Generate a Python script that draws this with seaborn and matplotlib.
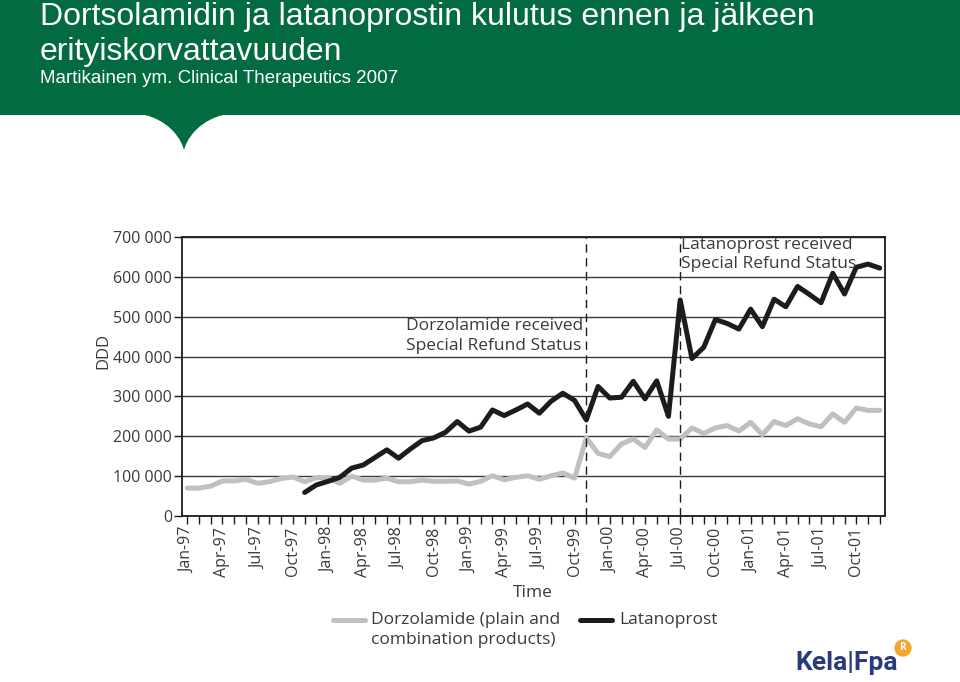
import matplotlib
matplotlib.use("Agg")
import matplotlib.pyplot as plt
from matplotlib.patches import Rectangle, PathPatch
from matplotlib.path import Path
from matplotlib.lines import Line2D
from matplotlib.ticker import FuncFormatter, MultipleLocator
import numpy as np
import pandas as pd
import seaborn as sns

# monthly DDD (thousands), Jan-97 .. Dec-01 (60 months)
months = list(range(60))
dorzolamide = [70, 70, 75, 88, 88, 92, 82, 86, 94, 98,
               86, 96, 96, 82, 100, 90, 90, 95, 86, 86,
               90, 87, 87, 88, 80, 87, 101, 91, 97, 101,
               92, 101, 108, 95, 196, 157, 149, 181, 193, 172,
               216, 193, 193, 221, 207, 221, 227, 213, 235, 204,
               237, 227, 244, 231, 224, 256, 235, 271, 265, 265]
latanoprost = [None] * 10 + [
               59, 78, 87, 97, 120, 128, 147, 166, 145, 168,
               189, 196, 210, 237, 213, 223, 266, 252, 266, 281,
               258, 288, 308, 290, 241, 325, 296, 298, 338, 294,
               339, 250, 542, 395, 423, 493, 483, 469, 519, 475,
               544, 525, 576, 556, 535, 609, 557, 624, 632, 622]
tick_labels = ["Jan-97", "Apr-97", "Jul-97", "Oct-97", "Jan-98", "Apr-98",
               "Jul-98", "Oct-98", "Jan-99", "Apr-99", "Jul-99", "Oct-99",
               "Jan-00", "Apr-00", "Jul-00", "Oct-00", "Jan-01", "Apr-01",
               "Jul-01", "Oct-01"]
dorz_refund = 34   # Nov-99
latan_refund = 42  # Jul-00

df = pd.DataFrame({"month": months,
                   "Dorzolamide": np.array(dorzolamide, dtype=float) * 1000,
                   "Latanoprost": np.array(latanoprost, dtype=float) * 1000})

sns.set_style("white")
plt.rcParams["font.family"] = ["Open Sans", "DejaVu Sans"]

W, H = 960, 682
fig = plt.figure(figsize=(9.6, 6.82), dpi=100)

def fx(px):
    return px / W

def fy(py):
    return 1 - py / H

# green header band with the little tail
green = "#036b40"
fig.patches.append(Rectangle((0, fy(115)), 1, 115 / H, transform=fig.transFigure,
                             facecolor=green, edgecolor="none", zorder=0))
verts = [(fx(138), fy(114)), (fx(155), fy(115)), (fx(178), fy(128)), (fx(184), fy(150)),
         (fx(190), fy(128)), (fx(213), fy(115)), (fx(230), fy(114)), (fx(138), fy(114))]
codes = [Path.MOVETO, Path.CURVE4, Path.CURVE4, Path.CURVE4,
         Path.CURVE4, Path.CURVE4, Path.CURVE4, Path.CLOSEPOLY]
fig.patches.append(PathPatch(Path(verts, codes), transform=fig.transFigure,
                             facecolor=green, edgecolor="none", zorder=0))

title_font = ["Liberation Sans", "DejaVu Sans"]
fig.text(fx(40), fy(25), "Dortsolamidin ja latanoprostin kulutus ennen ja jälkeen",
         color="white", fontsize=23, va="baseline", ha="left", family=title_font)
fig.text(fx(40), fy(60), "erityiskorvattavuuden",
         color="white", fontsize=23, va="baseline", ha="left", family=title_font)
fig.text(fx(40), fy(83), "Martikainen ym. Clinical Therapeutics 2007",
         color="white", fontsize=13.5, va="baseline", ha="left", family=title_font)

ax = fig.add_axes([fx(182), fy(516), fx(885) - fx(182), (516 - 237) / H])

sns.lineplot(data=df, x="month", y="Dorzolamide", ax=ax, color="#c0c0c0",
             linewidth=3.6, legend=False)
sns.lineplot(data=df, x="month", y="Latanoprost", ax=ax, color="#1c1c1c",
             linewidth=3.6, legend=False)

ax.set_xlim(-0.45, 59.45)
ax.set_ylim(0, 700000)
ax.yaxis.set_major_locator(MultipleLocator(100000))
ax.yaxis.set_major_formatter(FuncFormatter(lambda v, p: f"{int(v):,}".replace(",", " ")))
ax.set_xticks(range(0, 60, 3))
ax.set_xticklabels(tick_labels, rotation=90)
ax.xaxis.set_minor_locator(MultipleLocator(1))
ax.grid(axis="y", color="#3a3a3a", linewidth=1)
ax.set_axisbelow(True)
for s in ax.spines.values():
    s.set_color("#1a1a1a")
    s.set_linewidth(1.3)
ax.tick_params(axis="x", which="both", direction="out", length=6, width=1,
               color="#1a1a1a", bottom=True, pad=2)
ax.tick_params(axis="y", direction="out", length=6, width=1, color="#1a1a1a",
               left=True, pad=1)
ax.tick_params(labelsize=11.5, labelcolor="#3a3a3a")
ax.set_xlabel("")
ax.set_ylabel("DDD", fontsize=12, color="#3a3a3a")
ax.yaxis.set_label_coords((111 - 182) / 703, 0.59)

for m in (dorz_refund, latan_refund):
    ax.axvline(m, color="#1a1a1a", linewidth=1, linestyle=(0, (6, 4)))

ax.text(18.65, 452000, "Dorzolamide received\nSpecial Refund Status", fontsize=12.5,
        color="#3a3a3a", va="center", ha="left", linespacing=1.3)
ax.text(42.05, 656000, "Latanoprost received\nSpecial Refund Status", fontsize=12.5,
        color="#3a3a3a", va="center", ha="left", linespacing=1.3)

fig.text(fx(533), fy(593), "Time", fontsize=12.5, color="#3a3a3a", ha="center", va="center")

# legend
fig.add_artist(Line2D([fx(333), fx(365)], [fy(620), fy(620)], color="#c0c0c0", linewidth=3.6))
fig.text(fx(371), fy(630), "Dorzolamide (plain and\ncombination products)", fontsize=12.5,
         color="#3a3a3a", ha="left", va="center", linespacing=1.3)
fig.add_artist(Line2D([fx(580), fx(612)], [fy(620), fy(620)], color="#1c1c1c", linewidth=3.6))
fig.text(fx(619), fy(620), "Latanoprost", fontsize=12.5, color="#3a3a3a", ha="left", va="center")

# logo
fig.text(fx(795), fy(663), "Kela|Fpa", fontsize=19, fontweight="bold", color="#2b3a7a",
         ha="left", va="center", family=["Roboto", "DejaVu Sans"])
fig.text(fx(903), fy(648), "R", fontsize=7.5, fontweight="bold", color="white",
         ha="center", va="center",
         bbox=dict(boxstyle="circle,pad=0.3", fc="#f4a52a", ec="none"))

fig.savefig("out.png", dpi=100)
